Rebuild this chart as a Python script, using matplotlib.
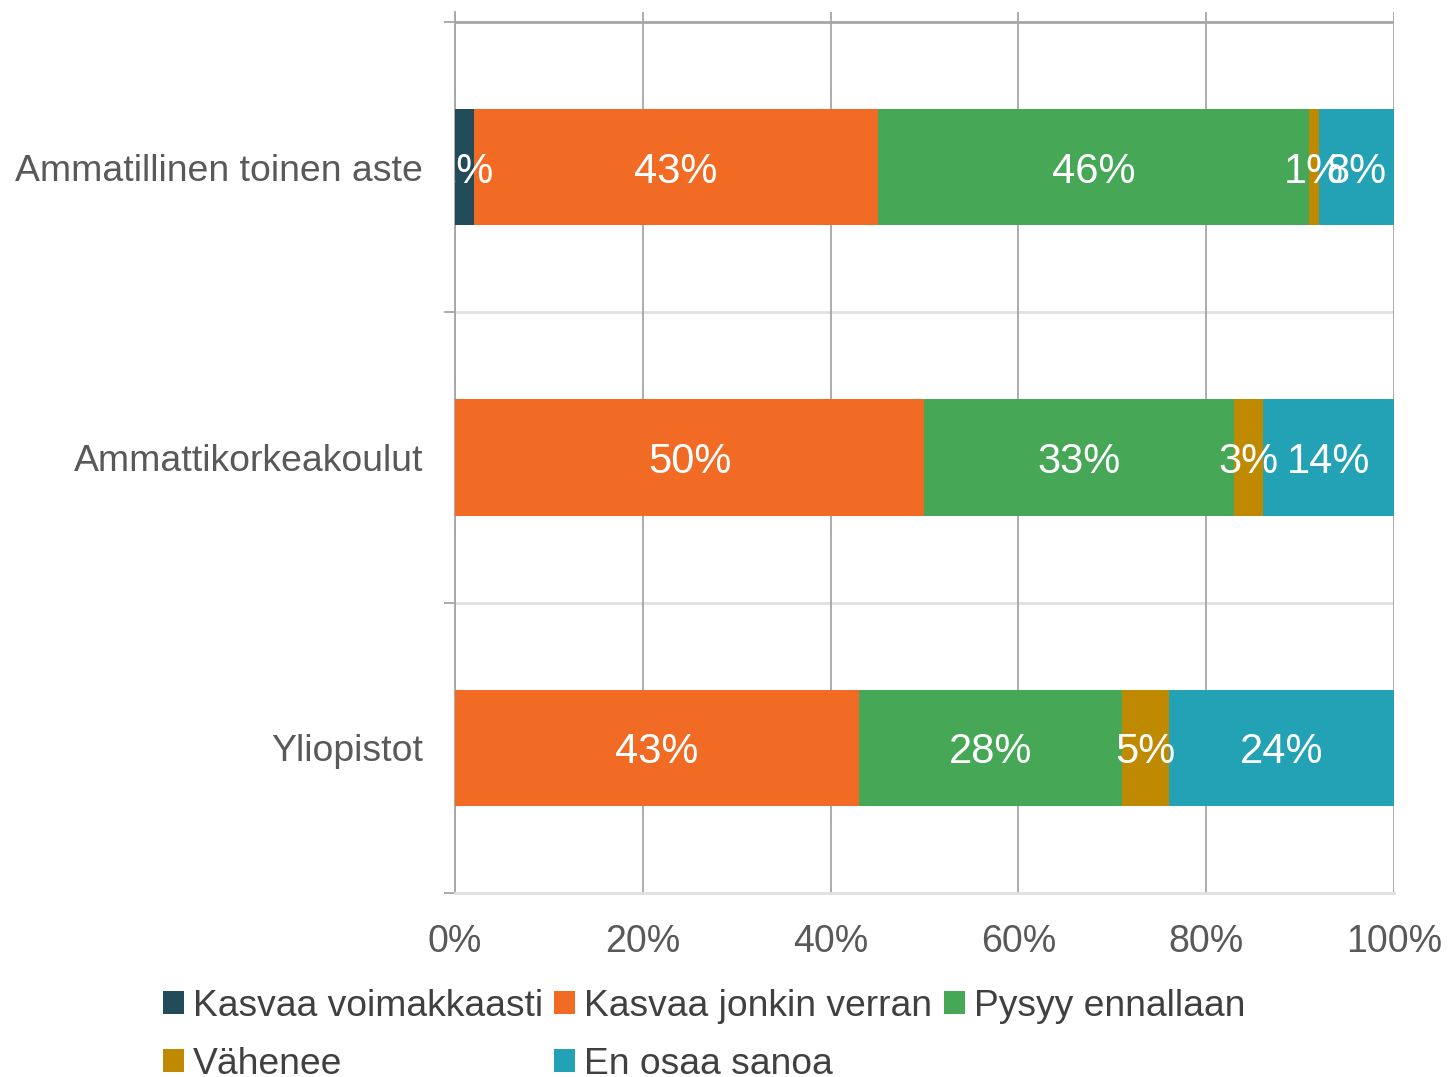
import matplotlib.pyplot as plt
from matplotlib.patches import Patch

plt.rcParams['font.family'] = ['Liberation Sans', 'DejaVu Sans']

categories = ['Ammatillinen toinen aste', 'Ammattikorkeakoulut', 'Yliopistot']
series = ['Kasvaa voimakkaasti', 'Kasvaa jonkin verran', 'Pysyy ennallaan', 'Vähenee', 'En osaa sanoa']
values = {
    'Kasvaa voimakkaasti': [2, 0, 0],
    'Kasvaa jonkin verran': [43, 50, 43],
    'Pysyy ennallaan': [46, 33, 28],
    'Vähenee': [1, 3, 5],
    'En osaa sanoa': [8, 14, 24],
}
colors = ['#234c5a', '#f26b24', '#46a856', '#c08a00', '#23a1b5']
xticks = [0, 20, 40, 60, 80, 100]

fig = plt.figure(figsize=(14.48, 10.77), dpi=100)
ax = fig.add_axes([0.3142, 0.1708, 0.6485, 0.8181])

ypos = list(range(len(categories)))
left = [0.0] * len(categories)
handles = []
for name, col in zip(series, colors):
    vals = values[name]
    ax.barh(ypos, vals, left=left, height=0.4, color=col, zorder=3)
    for i, v in enumerate(vals):
        if v > 0:
            ax.text(left[i] + v / 2, ypos[i], f'{v}%', ha='center', va='center_baseline',
                    color='white', fontsize=30, zorder=4, clip_on=True)
    left = [l + v for l, v in zip(left, vals)]
    handles.append(Patch(facecolor=col, label=name))

ax.set_xlim(0, 100)
ax.set_ylim(2.5, -0.534)
ax.set_xticks(xticks)
ax.set_xticklabels([f'{t}%' for t in xticks], fontsize=27, color='#595959')
ax.tick_params(axis='x', length=0, pad=22)
ax.xaxis.grid(True, color='#a6a6a6', linewidth=1.3, zorder=0)

ax.set_yticks(ypos)
ax.set_yticklabels(categories, fontsize=26.9, color='#595959')
ax.tick_params(axis='y', which='major', length=0, pad=23)
ax.set_yticks([-0.5, 0.5, 1.5, 2.5], minor=True)
ax.tick_params(axis='y', which='minor', length=8, color='#a6a6a6', width=1.3)

ax.axhline(-0.5, color='#a6a6a6', linewidth=2, zorder=1)
for b in [0.5, 1.5]:
    ax.axhline(b, color='#e0e0e0', linewidth=2, zorder=1)

for s in ['top', 'right']:
    ax.spines[s].set_visible(False)
ax.spines['bottom'].set_color('#e0e0e0')
ax.spines['bottom'].set_linewidth(2)
ax.spines['left'].set_color('#a6a6a6')
ax.spines['left'].set_linewidth(1.3)

# legend fills row-wise in the original, so reorder for matplotlib's column fill
order = [0, 3, 1, 4, 2]
fig.legend([handles[i] for i in order], [series[i] for i in order],
           ncol=3, loc='upper left', bbox_to_anchor=(0.1125, 0.082), frameon=False,
           fontsize=26.8, labelcolor='#404040', handlelength=0.56, handleheight=0.56,
           handletextpad=0.25, columnspacing=0.3, labelspacing=0.62, borderpad=0,
           borderaxespad=0)

fig.savefig('out.png', dpi=100)
